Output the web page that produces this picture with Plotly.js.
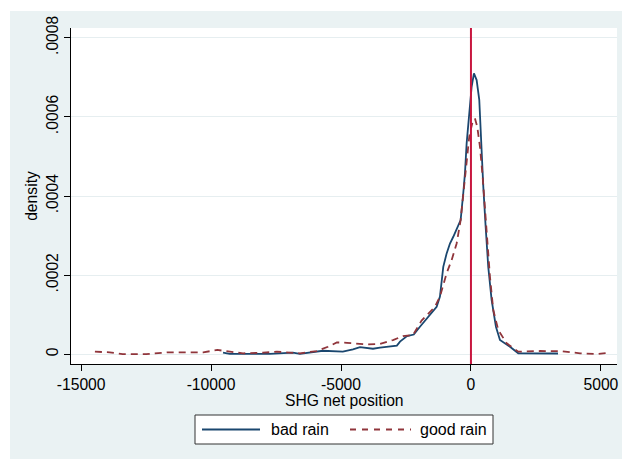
<!DOCTYPE html>
<html>
<head>
<meta charset="utf-8">
<script src="https://cdn.plot.ly/plotly-3.0.1.min.js"></script>
<style>
  html, body { margin: 0; padding: 0; background: #ffffff; width: 622px; height: 459px; overflow: hidden; }
  #chart { position: absolute; left: 10px; top: 11px; width: 612px; height: 448px; }
</style>
</head>
<body>
<div id="chart"></div>
<script>
// ---- data ----
const badRainX = [-9540, -9280, -8500, -7740, -6850, -6580, -5700, -4930, -4540, -4270, -3770, -3500, -2850, -2730, -2460, -2200, -1963, -1643, -1320, -1193, -1065, -935, -808, -680, -397, -296, -231, -166, -65, 26, 115, 219, 320, 385, 475, 566, 666, 796, 962, 1116, 1501, 1821, 2500, 3350];
const badRainY = [4e-6, 1e-6, 1e-6, 1e-6, 4e-6, 1e-6, 9e-6, 6.6e-6, 12.6e-6, 18e-6, 14e-6, 17e-6, 22e-6, 32e-6, 46e-6, 50e-6, 69.7e-6, 95e-6, 120e-6, 146e-6, 221e-6, 255e-6, 280e-6, 297e-6, 339e-6, 407e-6, 457e-6, 533e-6, 617e-6, 676e-6, 710e-6, 693e-6, 643e-6, 533e-6, 424e-6, 322e-6, 221e-6, 137e-6, 69.7e-6, 36.1e-6, 19.2e-6, 2.5e-6, 2e-6, 2e-6];

const goodRainX = [-14470, -13900, -13400, -12500, -11700, -10800, -10300, -9760, -9160, -8770, -8000, -7470, -6580, -5930, -5500, -5160, -4770, -4000, -3500, -3000, -2620, -2230, -1900, -1386, -1193, -935, -743, -551, -397, -296, -166, -65, 65, 154, 243, 346, 450, 539, 628, 731, 859, 1052, 1374, 1821, 2660, 3430, 4200, 4850, 5230];
const goodRainY = [6.6e-6, 5e-6, 0.5e-6, 0.5e-6, 5e-6, 4e-6, 5e-6, 11e-6, 5e-6, 2.5e-6, 4e-6, 6.6e-6, 2.5e-6, 8.3e-6, 19e-6, 30e-6, 29e-6, 25e-6, 26e-6, 36e-6, 46e-6, 49e-6, 85e-6, 120e-6, 146e-6, 205e-6, 238e-6, 280e-6, 339e-6, 407e-6, 500e-6, 550e-6, 588e-6, 596e-6, 575e-6, 525e-6, 449e-6, 365e-6, 272e-6, 196e-6, 112e-6, 61.4e-6, 27.8e-6, 6.6e-6, 8.3e-6, 8e-6, 2.5e-6, 0.8e-6, 3.3e-6];

const xTickVals = [-15000, -10000, -5000, 0, 5000];
const xTickText = ['-15000', '-10000', '-5000', '0', '5000'];
const yTickVals = [0, 0.0002, 0.0004, 0.0006, 0.0008];
const yTickText = ['0', '.0002', '.0004', '.0006', '.0008'];
const seriesNames = ['bad rain', 'good rain'];
const xTitle = 'SHG net position';
const yTitle = 'density';
const refLineX = 0;

// ---- styling ----
const FONT = 'Liberation Sans, Arial, sans-serif';
const NAVY = '#1A476F';
const MAROON = '#90353B';
const RED = '#C8163F';
const BG = '#EAF2F3';
const DASH = '7px,5px';

// plot area in page pixels: x 71..617, y 28..364
const PX0 = 71, PX1 = 617, PY0 = 28, PY1 = 364;
const pxX = p => (p - PX0) / (PX1 - PX0);
const pxY = p => (PY1 - p) / (PY1 - PY0);

const traces = [
  { x: badRainX, y: badRainY, name: seriesNames[0], type: 'scatter', mode: 'lines',
    line: { color: NAVY, width: 1.8 }, showlegend: false, hoverinfo: 'skip' },
  { x: goodRainX, y: goodRainY, name: seriesNames[1], type: 'scatter', mode: 'lines',
    line: { color: MAROON, width: 1.8, dash: DASH }, showlegend: false, hoverinfo: 'skip' }
];

// custom legend (box + sample lines + labels)
const legY = 429.5;
const shapes = [
  { type: 'line', xref: 'x', yref: 'paper', x0: refLineX, x1: refLineX, y0: 0, y1: 1,
    line: { color: RED, width: 2 } },
  { type: 'rect', xref: 'paper', yref: 'paper', x0: pxX(195), x1: pxX(493), y0: pxY(444), y1: pxY(415),
    fillcolor: '#ffffff', line: { color: '#333333', width: 1 } },
  { type: 'line', xref: 'paper', yref: 'paper', x0: pxX(202), x1: pxX(260), y0: pxY(legY), y1: pxY(legY),
    line: { color: NAVY, width: 1.8 } },
  { type: 'line', xref: 'paper', yref: 'paper', x0: pxX(350), x1: pxX(411), y0: pxY(legY), y1: pxY(legY),
    line: { color: MAROON, width: 1.8, dash: '6px,6px' } }
];
const annotations = [
  { xref: 'paper', yref: 'paper', x: pxX(269), y: pxY(legY), xanchor: 'left', yanchor: 'middle',
    text: seriesNames[0], showarrow: false, font: { family: FONT, size: 16, color: '#000' } },
  { xref: 'paper', yref: 'paper', x: pxX(418), y: pxY(legY), xanchor: 'left', yanchor: 'middle',
    text: seriesNames[1], showarrow: false, font: { family: FONT, size: 16, color: '#000' } },
  { xref: 'paper', yref: 'paper', x: 0.5, y: pxY(400), xanchor: 'center', yanchor: 'middle',
    text: xTitle, showarrow: false, font: { family: FONT, size: 15.7, color: '#000' } }
];

const layout = {
  width: 612, height: 448,
  margin: { l: 61, r: 5, t: 17, b: 95, pad: 0 },
  paper_bgcolor: BG,
  plot_bgcolor: '#ffffff',
  showlegend: false,
  font: { family: FONT, size: 15.7, color: '#000' },
  xaxis: {
    range: [-15390, 5620],
    tickvals: xTickVals, ticktext: xTickText,
    ticks: 'outside', ticklen: 6, tickcolor: '#000', tickwidth: 1,
    showline: true, linecolor: '#000', linewidth: 1,
    showgrid: false, zeroline: false,
    tickfont: { family: FONT, size: 15.7, color: '#000' }
  },
  yaxis: {
    range: [-0.0000245, 0.0008245],
    tickvals: yTickVals, ticktext: yTickText,
    tickangle: -90,
    ticks: 'outside', ticklen: 6, tickcolor: '#000', tickwidth: 1,
    showline: true, linecolor: '#000', linewidth: 1,
    showgrid: true, gridcolor: '#E6EEF0', gridwidth: 1, zeroline: false,
    tickfont: { family: FONT, size: 15.7, color: '#000' },
    title: { text: yTitle, font: { family: FONT, size: 15.7, color: '#000' }, standoff: 2 }
  },
  shapes: shapes,
  annotations: annotations
};

Plotly.newPlot('chart', traces, layout, { displayModeBar: false, staticPlot: true });
</script>
</body>
</html>
